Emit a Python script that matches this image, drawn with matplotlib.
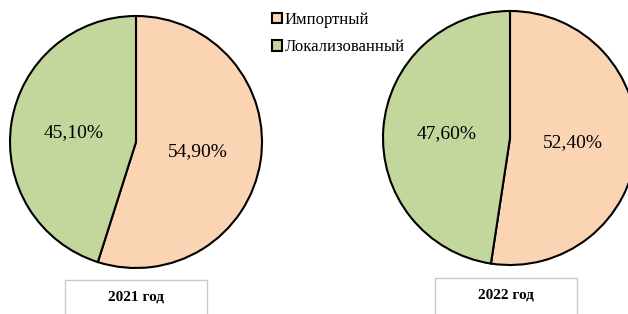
import matplotlib.pyplot as plt
from matplotlib.patches import Rectangle

plt.rcParams['font.family'] = ['Liberation Serif', 'DejaVu Serif']

categories = ['Импортный', 'Локализованный']
years = ['2021 год', '2022 год']
shares_2021 = [54.9, 45.1]
shares_2022 = [52.4, 47.6]
colors = ['#FBD4B4', '#C3D69B']


def fmt(p):
  return f'{p:.2f}%'.replace('.', ',')


fig = plt.figure(figsize=(6.28, 3.14), dpi=100)
ax = fig.add_axes([0, 0, 1, 1])
ax.set_xlim(0, 628)
ax.set_ylim(0, 314)
ax.set_aspect('equal')
ax.axis('off')

wedges, _, _ = ax.pie(shares_2021, colors=colors, startangle=90, counterclock=False,
                      center=(136, 172), radius=126, autopct=fmt, pctdistance=0.5,
                      wedgeprops=dict(edgecolor='black', linewidth=1.5),
                      textprops=dict(fontsize=14))
ax.pie(shares_2022, colors=colors, startangle=90, counterclock=False,
       center=(510, 176), radius=127, autopct=fmt, pctdistance=0.5,
       wedgeprops=dict(edgecolor='black', linewidth=1.5),
       textprops=dict(fontsize=14))
ax.set_xlim(0, 628)
ax.set_ylim(0, 314)

# year captions in boxes
for cx, top, year in [(136, 34, years[0]), (506, 36, years[1])]:
  ax.add_patch(Rectangle((cx - 71, -5), 142, top + 5, facecolor='white',
                         edgecolor='#C8C8C8', linewidth=1))
  ax.text(cx, top - 17, year, ha='center', va='center', fontsize=11, fontweight='bold')

leg = ax.legend(wedges, categories, loc='upper left', bbox_to_anchor=(260 / 628, 1.0),
                frameon=False, fontsize=12, handlelength=0.6, handleheight=0.6,
                handletextpad=0.2, labelspacing=0.7, borderaxespad=0.3)

fig.savefig('out.png', dpi=100)
